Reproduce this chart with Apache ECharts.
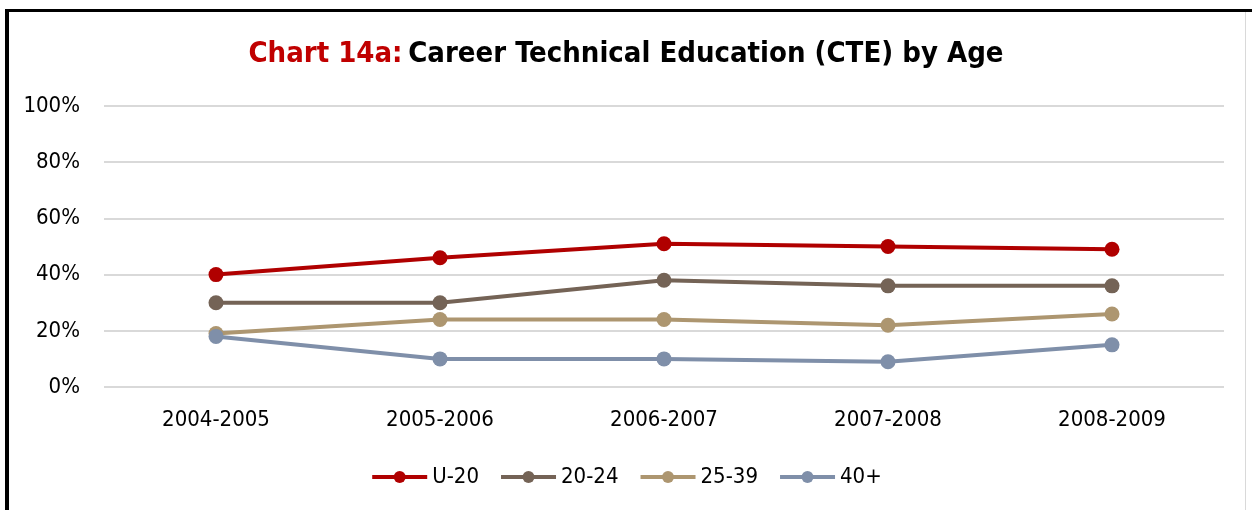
<!DOCTYPE html>
<html>
<head>
<meta charset="utf-8">
<script src="https://cdn.jsdelivr.net/npm/echarts@6/dist/echarts.min.js"></script>
<style>
  html, body { margin: 0; padding: 0; background: #fff; }
  #chart { width: 1252px; height: 510px; }
</style>
</head>
<body>
<div id="chart"></div>
<script>
// ============================
// Datos
// ============================
var years = ["2004-2005", "2005-2006", "2006-2007", "2007-2008", "2008-2009"];
var seriesNames = ["U-20", "20-24", "25-39", "40+"];
var u20 = [40, 46, 51, 50, 49];
var age20to24 = [30, 30, 38, 36, 36];
var age25to39 = [19, 24, 24, 22, 26];
var age40plus = [18, 10, 10, 9, 15];
var colors = ["#B00000", "#746356", "#AD9670", "#7F8FA9"];

var FONT = "'Liberation Sans Narrow', 'DejaVu Sans Condensed', sans-serif";

function lineSerie(name, data, color) {
    return {
        name: name,
        type: "line",
        data: data,
        symbol: "circle",
        symbolSize: 15,
        lineStyle: { width: 4, color: color },
        itemStyle: { color: color }
    };
}

var chart = echarts.init(document.getElementById("chart"));
chart.setOption({
    animation: false,
    textStyle: { fontFamily: FONT },
    title: {
        text: "{r|Chart 14a:} {b|Career Technical Education (CTE) by Age}",
        left: "center",
        top: 35,
        textStyle: {
            rich: {
                r: { color: "#C00000", fontSize: 29, fontWeight: "bold", fontFamily: FONT },
                b: { color: "#000", fontSize: 29, fontWeight: "bold", fontFamily: FONT }
            }
        }
    },
    legend: {
        data: seriesNames,
        bottom: 17,
        left: "center",
        itemWidth: 55,
        itemHeight: 15,
        itemGap: 20,
        lineStyle: { width: 4 },
        textStyle: { fontSize: 22, color: "#000", fontFamily: FONT }
    },
    grid: { left: 104, right: 28, top: 106, bottom: 123 },
    xAxis: {
        type: "category",
        data: years,
        axisLine: { show: false },
        axisTick: { show: false },
        axisLabel: { fontSize: 22, color: "#000", margin: 22 }
    },
    yAxis: {
        type: "value",
        min: 0,
        max: 100,
        interval: 20,
        axisLine: { show: false },
        axisTick: { show: false },
        splitLine: { lineStyle: { color: "#D9D9D9", width: 2 } },
        axisLabel: { fontSize: 22, color: "#000", margin: 24, formatter: "{value}%" }
    },
    series: [
        lineSerie(seriesNames[0], u20, colors[0]),
        lineSerie(seriesNames[1], age20to24, colors[1]),
        lineSerie(seriesNames[2], age25to39, colors[2]),
        lineSerie(seriesNames[3], age40plus, colors[3])
    ],
    graphic: [
        { type: "rect", shape: { x: 5, y: 9, width: 1247, height: 3 }, style: { fill: "#000" } },
        { type: "rect", shape: { x: 5, y: 9, width: 4, height: 501 }, style: { fill: "#000" } },
        { type: "rect", shape: { x: 1245, y: 12, width: 1, height: 498 }, style: { fill: "#D9D9D9" } }
    ]
});
</script>
</body>
</html>
